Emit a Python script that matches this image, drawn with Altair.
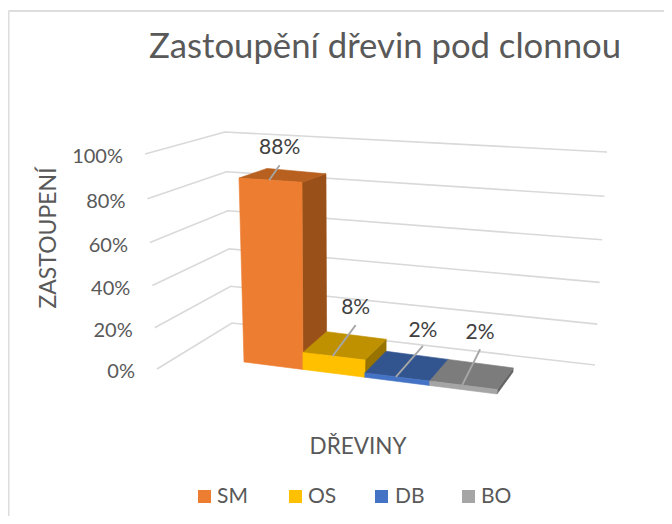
import altair as alt
import pandas as pd

# ---- chart values ----
categories = ["SM", "OS", "DB", "BO"]
values = [88, 8, 2, 2]
labels = ["88%", "8%", "2%", "2%"]
ticks = [0, 20, 40, 60, 80, 100]
front_colors = ["#ED7D31", "#FFC000", "#4472C4", "#A5A5A5"]
top_colors = ["#B8601F", "#BF9000", "#33558F", "#7C7C7C"]
side_colors = ["#9A5119", "#997300", "#2A4677", "#646464"]

FONT = "Lato"
W, H = 656, 508
xs = alt.Scale(domain=[8, 8 + W], range=[0, W])
ys = alt.Scale(domain=[8, 8 + H], range=[0, H])


def lerp(a, b, t):
    return a + (b - a) * t


def bar_point(u, d, v):
    """3D -> screen for the bars: u across the floor, d into depth, v in percent."""
    u = 0.91 * u + 0.09 * u * u
    fx = lerp(lerp(244, 497, u), lerp(270, 513, u), d)
    fy = lerp(lerp(362, 394, u), lerp(340, 372, u), d)
    ux = lerp(lerp(-5.7, 14, u), lerp(-3.4, 8, u), d)
    uy = lerp(lerp(-209, -225, u), lerp(-195, -205, u), d)
    return fx + ux * v / 100, fy + uy * v / 100


def wall_point(anchor, v):
    """Grid line ends: anchor 0 = left end, 1 = wall corner, 2 = right end."""
    t = v / 100
    t = 0.95 * t + 0.05 * t * t
    x0, y0, x1, y1 = [(157, 369, 145, 154), (232, 323, 225, 132), (595, 365, 607, 152)][anchor]
    return lerp(x0, x1, t), lerp(y0, y1, t)


def X(name="x"):
    return alt.X(f"{name}:Q", scale=xs, axis=None)


def Y(name="y"):
    return alt.Y(f"{name}:Q", scale=ys, axis=None)


def polygon(points, color):
    rows = [{"x": p[0], "y": p[1], "o": i} for i, p in enumerate(points + points[:1])]
    return (
        alt.Chart(pd.DataFrame(rows))
        .mark_line(fill=color, stroke=color, strokeWidth=0.6, interpolate="linear")
        .encode(x=X(), y=Y(), order="o:Q")
    )


def text(rows, size, color, angle=0, align="center"):
    return (
        alt.Chart(pd.DataFrame(rows))
        .mark_text(font=FONT, fontSize=size, color=color, angle=angle, align=align, baseline="middle")
        .encode(x=X(), y=Y(), text="t:N")
    )


layers = []

# frame
layers.append(
    alt.Chart(pd.DataFrame([{"x": 8.5, "y": 11, "y2": 516}]))
    .mark_rule(color="#DDDDDD", strokeWidth=2)
    .encode(x=X(), y=Y(), y2="y2:Q")
)
layers.append(
    alt.Chart(pd.DataFrame([{"x": 8.5, "x2": 664, "y": 11}]))
    .mark_rule(color="#DDDDDD", strokeWidth=2)
    .encode(x=X(), x2="x2:Q", y=Y())
)

# grid lines
for v in ticks:
    pts = [wall_point(a, v) for a in range(3)]
    df = pd.DataFrame([{"x": p[0], "y": p[1], "o": i} for i, p in enumerate(pts)])
    layers.append(alt.Chart(df).mark_line(color="#D9D9D9", strokeWidth=1.6).encode(x=X(), y=Y(), order="o:Q"))

# bars, left to right
n = len(categories)
for i, val in enumerate(values):
    u0, u1 = i / n, (i + 1) / n
    layers.append(polygon([bar_point(u1, 0, 0), bar_point(u1, 1, 0), bar_point(u1, 1, val), bar_point(u1, 0, val)], side_colors[i]))
    layers.append(polygon([bar_point(u0, 0, val), bar_point(u1, 0, val), bar_point(u1, 1, val), bar_point(u0, 1, val)], top_colors[i]))
    layers.append(polygon([bar_point(u0, 0, 0), bar_point(u1, 0, 0), bar_point(u1, 0, val), bar_point(u0, 0, val)], front_colors[i]))

# leader lines and data labels
leader_dx = [10.5, 23, 27, 18]
leader_dy = [-15, -31, -31, -36]
label_dy = [-17, -17, -15, -16]
label_rows = []
for i, val in enumerate(values):
    sx, sy = bar_point((i + 0.5) / n, 0, val)
    sx -= 1
    ex, ey = sx + leader_dx[i], sy + leader_dy[i]
    df = pd.DataFrame([{"x": sx, "y": sy, "o": 0}, {"x": ex, "y": ey, "o": 1}])
    layers.append(alt.Chart(df).mark_line(color="#A6A6A6", strokeWidth=1.8).encode(x=X(), y=Y(), order="o:Q"))
    label_rows.append({"x": ex, "y": ey + label_dy[i], "t": labels[i]})
layers.append(text(label_rows, 21, "#404040"))

# tick labels
tick_rows = []
for v in ticks:
    p = wall_point(0, v)
    tick_rows.append({"x": p[0] - 22, "y": p[1] + 3, "t": f"{v}%"})
layers.append(text(tick_rows, 20, "#595959", align="right"))

# titles
layers.append(text([{"x": 385, "y": 48, "t": "Zastoupění dřevin pod clonnou"}], 34.7, "#595959"))
layers.append(text([{"x": 49, "y": 238, "t": "ZASTOUPENÍ"}], 23, "#595959", angle=270))
layers.append(text([{"x": 358, "y": 447, "t": "DŘEVINY"}], 22.5, "#595959"))

# legend
legend_swatch_x = [204.5, 295.5, 381.5, 468.5]
legend_text_x = [217, 308, 395, 481]
for i, c in enumerate(categories):
    layers.append(
        alt.Chart(pd.DataFrame([{"x": legend_swatch_x[i], "y": 496.5}]))
        .mark_point(shape="square", filled=True, size=170, color=front_colors[i], opacity=1)
        .encode(x=X(), y=Y())
    )
    layers.append(text([{"x": legend_text_x[i], "y": 497, "t": c}], 21, "#595959", align="left"))

chart = (
    alt.layer(*layers)
    .properties(width=W, height=H, padding=0, autosize=alt.AutoSizeParams(type="none"))
    .configure_view(stroke=None)
)
chart.save("out.html", embed_options={"renderer": "svg", "actions": False})
